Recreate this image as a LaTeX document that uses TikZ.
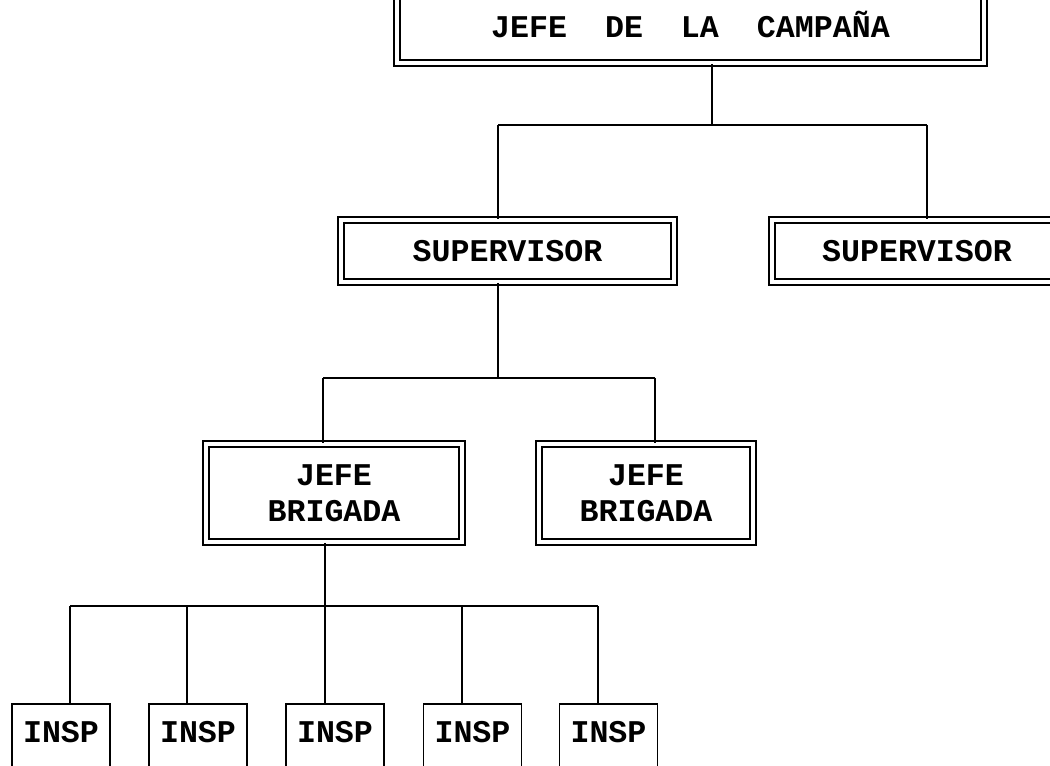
\documentclass[tikz,border=0pt]{standalone}
\usepackage{fontspec}
\setmonofont{Liberation Mono}
\begin{document}
\begin{tikzpicture}[
  orgfont/.style={font=\ttfamily\bfseries\fontsize{18}{20.5}\selectfont},
  dbox/.style={orgfont, draw, double, line width=1.1pt, double distance=2.4pt, inner sep=0pt, align=center},
  inspbox/.style={orgfont, draw, line width=1.1pt, inner sep=0pt, minimum width=1.96cm, anchor=north, text height=0.78cm, text depth=0.8cm},
  link/.style={line width=1.1pt}]
  \useasboundingbox (0,0) rectangle (21,15.32);
  \clip (0,0) rectangle (21,15.32);

  % cajas dobles
  \node[dbox, minimum width=11.74cm, minimum height=1.56cm] (jefe) at (13.81,14.84) {JEFE~~DE~~LA~~CAMPAÑA};
  \node[dbox, minimum width=6.66cm, minimum height=1.24cm] (sup1) at (10.15,10.30) {SUPERVISOR};
  \node[dbox, minimum width=5.80cm, minimum height=1.24cm] (sup2) at (18.34,10.30) {SUPERVISOR};
  \node[dbox, minimum width=5.12cm, minimum height=1.96cm] (brig1) at (6.68,5.46) {JEFE\\BRIGADA};
  \node[dbox, minimum width=4.28cm, minimum height=1.96cm] (brig2) at (12.92,5.46) {JEFE\\BRIGADA};

  % puntos de las barras
  \coordinate (a0) at (14.24,12.82);
  \coordinate (a1) at (9.96,12.82);
  \coordinate (a2) at (18.54,12.82);
  \coordinate (b0) at (9.96,7.76);
  \coordinate (b1) at (6.46,7.76);
  \coordinate (b2) at (13.10,7.76);
  \coordinate (c0) at (6.50,3.20);
  \coordinate (c1) at (1.40,3.20);
  \coordinate (c5) at (11.96,3.20);

  % jefe -> supervisores
  \draw[link] (jefe.south -| a0) -- (a0);
  \draw[link] (a1) -- (a2);
  \draw[link] (a1) -- (a1 |- sup1.north);
  \draw[link] (a2) -- (a2 |- sup2.north);

  % supervisor -> jefes de brigada
  \draw[link] (sup1.south -| b0) -- (b0);
  \draw[link] (b1) -- (b2);
  \draw[link] (b1) -- (b1 |- brig1.north);
  \draw[link] (b2) -- (b2 |- brig2.north);

  % jefe de brigada -> inspectores
  \draw[link] (brig1.south -| c0) -- (c0);
  \draw[link] (c1) -- (c5);
  \foreach \i/\bx/\dx in {1/1.22/1.40, 2/3.96/3.74, 3/6.70/6.50, 4/9.45/9.24, 5/12.17/11.96} {
    \node[inspbox] (insp\i) at (\bx,1.26) {INSP};
    \coordinate (d\i) at (\dx,3.20);
    \draw[link] (d\i) -- (d\i |- insp\i.north);
  }
\end{tikzpicture}
\end{document}
